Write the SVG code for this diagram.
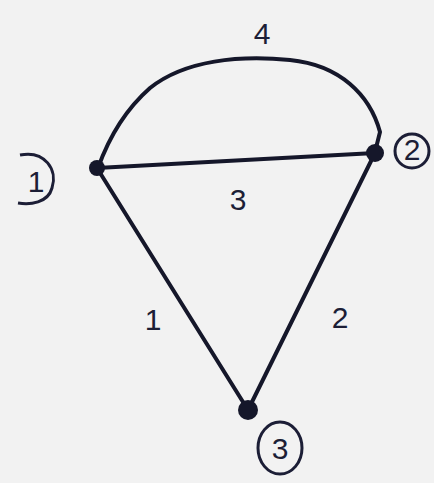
<svg xmlns="http://www.w3.org/2000/svg" width="434" height="483" viewBox="0 0 434 483">
<style>
.e{fill:none;stroke:#15172a;stroke-width:4;stroke-linecap:round;stroke-linejoin:round}
.d{fill:#15172a}
.r{fill:none;stroke:#1c1e36;stroke-width:3}
.t{font-family:"Liberation Sans",Arial,sans-serif;font-size:30px;fill:#1c1e36;text-anchor:middle}
</style>
<rect width="434" height="483" fill="#f2f2f2"/>
<g id="connectors">
<path class="e" d="M98,168 C108,140 125,110 150,88 C185,60 240,55 290,60 C340,65 370,95 380,132 L375,152"/>
<path class="e" d="M97,168 L375,153"/>
<path class="e" d="M97,168 L248,410"/>
<path class="e" d="M375,153 L248,410"/>
<text class="t" x="262" y="44">4</text>
<text class="t" x="238" y="210">3</text>
<text class="t" x="153" y="330">1</text>
<text class="t" x="340" y="328">2</text>
</g>
<g id="node1">
<circle class="d" cx="97" cy="168" r="8"/>
<path class="r" d="M20,155 C45,150 58,170 52,188 C48,203 30,205 18,203"/>
<text class="t" x="36" y="192" font-size="26">1</text>
</g>
<g id="node2">
<circle class="d" cx="375" cy="153" r="9"/>
<circle class="r" cx="412" cy="151" r="17"/>
<text class="t" x="412" y="160" font-size="24">2</text>
</g>
<g id="node3">
<circle class="d" cx="248" cy="410" r="10"/>
<ellipse class="r" cx="280" cy="448" rx="22" ry="26"/>
<text class="t" x="280" y="459" font-size="28">3</text>
</g>
</svg>
